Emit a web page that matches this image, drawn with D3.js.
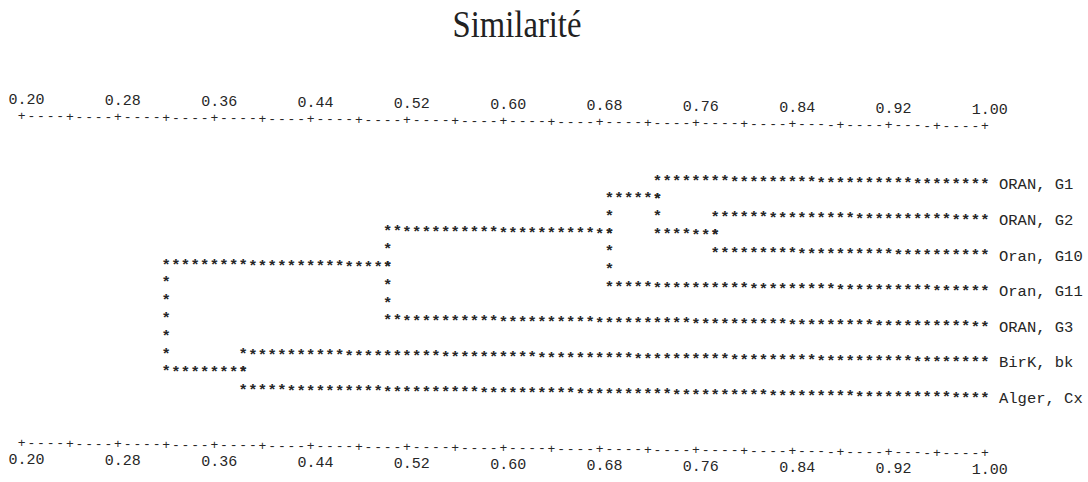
<!DOCTYPE html>
<html>
<head>
<meta charset="utf-8">
<script src="https://cdn.jsdelivr.net/npm/d3@7"></script>
<style>
  html, body { margin: 0; padding: 0; background: #fff; }
  #content { width: 1088px; height: 482px; }
  text { font-family: "Liberation Mono", "Courier New", monospace; }
</style>
</head>
<body>
<div id="content"></div>
<script>
// leaves, top to bottom
var leaves = ['ORAN, G1', 'ORAN, G2', 'Oran, G10', 'Oran, G11', 'ORAN, G3', 'BirK, bk', 'Alger, Cx'];
// merges (similarity level + the two children: leaf name or index of an earlier merge)
var mergeSim = [0.776, 0.728, 0.688, 0.504, 0.384, 0.32];
var mergeLeft = ['ORAN, G2', 'ORAN, G1', 1, 2, 'BirK, bk', 3];
var mergeRight = ['Oran, G10', 0, 'Oran, G11', 'ORAN, G3', 'Alger, Cx', 4];
// axis
var tickLabels = ['0.20', '0.28', '0.36', '0.44', '0.52', '0.60', '0.68', '0.76', '0.84', '0.92', '1.00'];
var simMin = 0.20, simMax = 1.00, step = 0.008;

var width = 1088, height = 482;
var svg = d3.select('div#content').append('svg')
  .attr('width', width)
  .attr('height', height);

// the scan is a little tilted: lower on the right
var slope = Math.tan(0.6 * Math.PI / 180);
function ty(px, py){ return py + (px - 544) * slope; }

svg.append('text')
  .attr('x', 0).attr('y', 0)
  .attr('transform', 'translate(517,' + ty(517, 37) + ') scale(0.86,1)')
  .attr('text-anchor', 'middle')
  .style('font-family', '"Liberation Serif", "Times New Roman", serif')
  .style('font-size', '38px')
  .attr('fill', '#222')
  .text('Similarité');

var g = svg.append('g');

var x = d3.scaleLinear().domain([simMin, simMax]).range([21.7, 985]);
var nCols = Math.round((simMax - simMin) / step);
var row = d3.scaleLinear().domain([0, 12]).range([176, 389.6]);
var ink = '#262626';
var fs = 15.5;

function col(s){ return Math.round((s - simMin) / step); }
function colX(c){ return x(simMin + c * step); }

function putChar(ch, c, yBase, size, bold){
  var px = colX(c);
  g.append('text')
    .attr('x', px)
    .attr('y', ty(px, yBase))
    .attr('text-anchor', 'middle')
    .style('font-size', size + 'px')
    .style('font-weight', bold ? 'bold' : 'normal')
    .attr('fill', ink)
    .text(ch);
}

// axis rules "+----+----..." and the tick labels
function axisRule(yBase, yLab){
  for(let c = 0; c <= nCols; c++){
    putChar(c % 5 === 0 ? '+' : '-', c, yBase, 13, false);
  }
  tickLabels.forEach(function(t){
    var px = x(+t) + 4.8;
    g.append('text')
      .attr('x', px)
      .attr('y', ty(px, yLab))
      .attr('text-anchor', 'middle')
      .style('font-size', '15px')
      .attr('fill', ink)
      .text(t);
  });
}
axisRule(125.5, 109.5);
axisRule(452.5, 469);

// build clusters: each one has a line row and a node level
var starOff = 8.6;
var lineRow = {};
var rowOf = {};
leaves.forEach(function(l, i){ rowOf[l] = 2 * i; lineRow[l] = 2 * i; });
var parentSim = {};
mergeSim.forEach(function(s, i){
  parentSim[mergeLeft[i]] = s;
  parentSim[mergeRight[i]] = s;
});

function star(c, r){ putChar('*', c, row(r) + starOff, fs, true); }
function hLine(r, s0, s1){
  for(let c = col(s0); c <= col(s1); c++) star(c, r);
}

// leaves: line from parent's level to 1.00 plus the name
leaves.forEach(function(l){
  hLine(rowOf[l], parentSim[l], simMax);
  var px = colX(nCols) + 14;
  g.append('text')
    .attr('x', px)
    .attr('y', ty(px, row(rowOf[l]) + starOff))
    .style('font-size', fs + 'px')
    .attr('fill', ink)
    .text(l);
});

mergeSim.forEach(function(s, i){
  var r1 = lineRow[mergeLeft[i]], r2 = lineRow[mergeRight[i]];
  var top = Math.min(r1, r2), bot = Math.max(r1, r2);
  for(let r = top + 1; r < bot; r++) star(col(s), r);
  var mine = Math.floor((top + bot) / 2);
  lineRow[i] = mine;
  if(parentSim[i] !== undefined) hLine(mine, parentSim[i], s);
});
</script>
</body>
</html>
